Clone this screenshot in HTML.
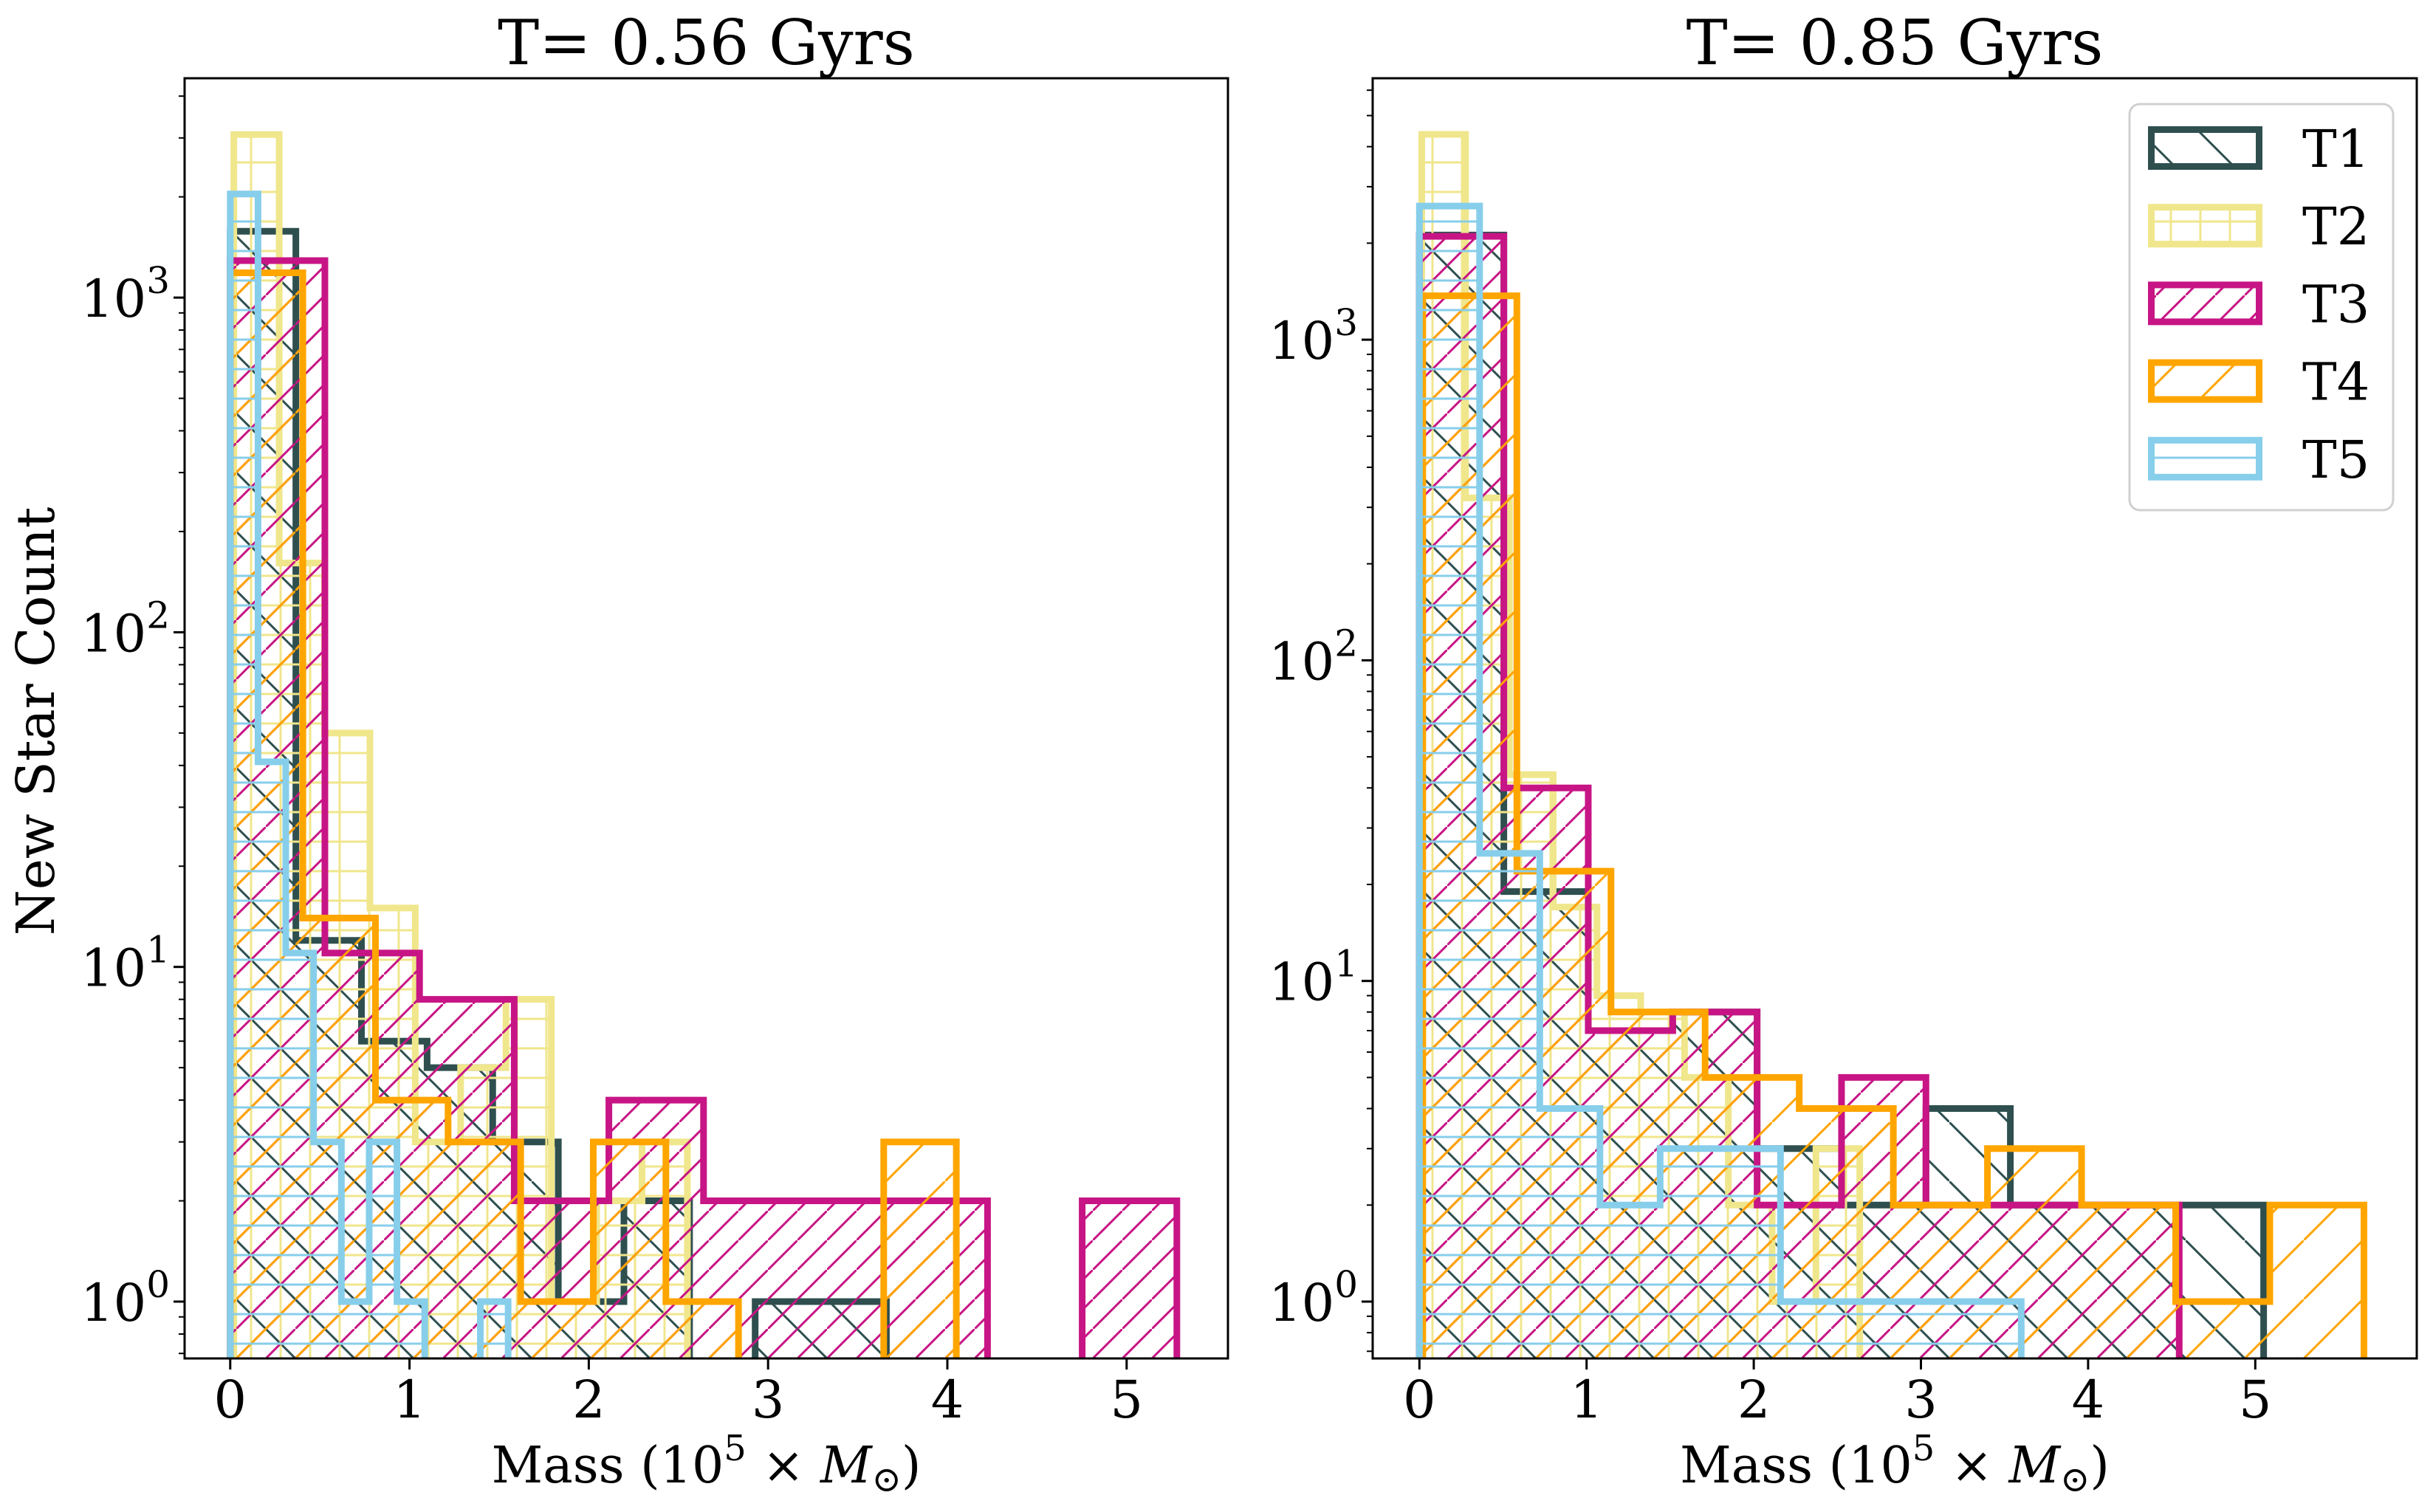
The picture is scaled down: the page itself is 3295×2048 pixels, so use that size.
<!DOCTYPE html>
<html><head><meta charset="utf-8"><title>New Star Count histograms</title>
<style>html,body{margin:0;padding:0;background:#fff}svg{display:block}text{font-family:"DejaVu Serif","Liberation Serif",serif;fill:#000}</style>
</head><body>
<svg id="chart" width="3295" height="2048" viewBox="0 0 3295 2048" xmlns="http://www.w3.org/2000/svg">
<defs id="defs"></defs>
</svg>
<script>
// ---- data ----
const seriesNames = ["T1","T2","T3","T4","T5"];
const seriesColors = ["#2F4F4F","#F0E68C","#C71585","#FFA500","#87CEEB"];
const seriesHatch = ["\\","+","//","/","-"];
const xTicks = [0,1,2,3,4,5];
const yTickExps = [0,1,2,3];
// left panel T=0.56
const leftBinStart = [0, 0.02, 0, 0, 0];
const leftBinWidth = [0.366, 0.253, 0.528, 0.405, 0.155];
const leftT1 = [1578,12,6,5,3,1,2,0,1,1];
const leftT2 = [3070,161,50,15,3,5,8,1,2,3];
const leftT3 = [1290,11,8,2,4,2,2,2,0,2];
const leftT4 = [1186,14,4,3,1,3,1,0,0,3];
const leftT5 = [2040,41,11,3,1,3,1,0,0,1];
// right panel T=0.85
const rightBinStart = [0, 0.014, 0, 0.02, 0];
const rightBinWidth = [0.505, 0.262, 0.505, 0.563, 0.36];
const rightT1 = [2120,19,7,8,3,2,4,2,2,2];
const rightT2 = [4370,321,44,17,9,8,5,2,1,3];
const rightT3 = [2100,40,7,8,2,5,2,2,2,0];
const rightT4 = [1371,22,8,5,4,2,3,2,1,2];
const rightT5 = [2610,25,4,2,3,3,1,1,1,1];

const NS="http://www.w3.org/2000/svg";
const svg=document.getElementById('chart');
const defs=document.getElementById('defs');
function mk(tag,attrs,parent){const e=document.createElementNS(NS,tag);for(const k in attrs)e.setAttribute(k,attrs[k]);(parent||svg).appendChild(e);return e;}

// hatch patterns
seriesNames.forEach((n,i)=>{
  const h=seriesHatch[i];const s=(h==="\\"||h==="/")?80:40;
  const p=mk('pattern',{id:'hatch-'+n,patternUnits:'userSpaceOnUse',width:s,height:s},defs);
  const st={stroke:seriesColors[i],'stroke-width':3,fill:'none'};
  if(h==="\\"){mk('line',Object.assign({x1:0,y1:0,x2:s,y2:s},st),p);}
  else if(h==="/"||h==="//"){mk('line',Object.assign({x1:0,y1:s,x2:s,y2:0},st),p);}
  else if(h==="+"){mk('line',Object.assign({x1:s/2,y1:0,x2:s/2,y2:s},st),p);mk('line',Object.assign({x1:0,y1:s/2,x2:s,y2:s/2},st),p);}
  else if(h==="-"){mk('line',Object.assign({x1:0,y1:s/2,x2:s,y2:s/2},st),p);}
});

function panel(cfg){
  const {L,R,T,B,x0px,xUnit,y0px,dec,title,starts,widths,data,name}=cfg;
  const g=mk('g',{});
  
  
  const xs=v=>x0px+v*xUnit;
  const ys=v=>y0px-Math.log10(v)*dec;
  const cid='clip-'+name;
  const cp=mk('clipPath',{id:cid},defs);mk('rect',{x:L,y:T,width:R-L,height:B-T},cp);
  const plot=mk('g',{'clip-path':'url(#'+cid+')'},g);
  
  
  data.forEach((counts,si)=>{
    const x0=starts[si],w=widths[si],bot=B+60;
    let d='M'+xs(x0)+','+bot;
    counts.forEach((c,i)=>{const y=c>0?ys(c):bot;d+=' L'+xs(x0+i*w)+','+y+' L'+xs(x0+(i+1)*w)+','+y;});
    d+=' L'+xs(x0+counts.length*w)+','+bot;
    const p=mk('path',{d:d,fill:'url(#hatch-'+seriesNames[si]+')',stroke:seriesColors[si],'stroke-width':9,'stroke-linejoin':'miter'},plot);
    
    
  });
  const fr=mk('rect',{x:L,y:T,width:R-L,height:B-T,fill:'none',stroke:'#000','stroke-width':3},g);
  
  
  xTicks.forEach(t=>{
    const x=xs(t);
    mk('line',{x1:x,y1:B,x2:x,y2:B+15,stroke:'#000','stroke-width':3},g);
    const tx=mk('text',{x:x,y:1920,'font-size':70,'text-anchor':'middle'},g);tx.textContent=t;
    
    
  });
  for(let e=-1;e<=4;e++){for(let k=1;k<10;k++){
    const v=k*Math.pow(10,e);const y=ys(v);if(y<T||y>B)continue;
    mk('line',{x1:L,y1:y,x2:L-(k===1?15:8),y2:y,stroke:'#000','stroke-width':k===1?3:2},g);
  }}
  yTickExps.forEach(e=>{
    const y=ys(Math.pow(10,e));
    const t=mk('text',{x:L-20,y:y+26,'font-size':70,'text-anchor':'end'},g);
    
    
    const a=mk('tspan',{},t);a.textContent='10';
    const b=mk('tspan',{'font-size':50,dy:-32},t);b.textContent=String(e);
  });
  const tt=mk('text',{x:(L+R)/2,y:87,'font-size':84,'text-anchor':'middle'},g);tt.textContent=title;
  
  
  const xl=mk('text',{x:(L+R)/2,y:2008,'font-size':68,'text-anchor':'middle'},g);
  
  
  const s1=mk('tspan',{},xl);s1.textContent='Mass (10';
  const s2=mk('tspan',{'font-size':48,dy:-30},xl);s2.textContent='5';
  const s3=mk('tspan',{dy:30},xl);s3.textContent=' × ';
  const s4=mk('tspan',{'font-style':'italic'},xl);s4.textContent='M';
  const s5=mk('tspan',{'font-size':48,dy:12},xl);s5.textContent='⊙';
  const s6=mk('tspan',{dy:-12},xl);s6.textContent=')';
  return g;
}

panel({L:250,R:1663,T:106,B:1840,x0px:311.8,xUnit:242.8,y0px:1763,dec:453.3,title:'T= 0.56 Gyrs',
  starts:leftBinStart,widths:leftBinWidth,data:[leftT1,leftT2,leftT3,leftT4,leftT5],name:'left-panel'});
panel({L:1859,R:3273,T:106,B:1840,x0px:1922.3,xUnit:226.4,y0px:1763,dec:434.3,title:'T= 0.85 Gyrs',
  starts:rightBinStart,widths:rightBinWidth,data:[rightT1,rightT2,rightT3,rightT4,rightT5],name:'right-panel'});

const yl=mk('text',{x:0,y:0,'font-size':71,'text-anchor':'middle',transform:'translate(73,977) rotate(-90)'});
yl.textContent='New Star Count';



const lg=mk('g',{});


mk('rect',{x:2884,y:141,width:357,height:550,rx:14,fill:'#fff','fill-opacity':0.8,stroke:'#d0d0d0','stroke-width':3},lg);
seriesNames.forEach((n,i)=>{
  const top=171+i*105.2;
  const e=mk('g',{},lg);
  
  
  mk('rect',{x:2913.5,y:top+4.5,width:146,height:50,fill:'url(#hatch-'+n+')',stroke:seriesColors[i],'stroke-width':9},e);
  const t=mk('text',{x:3118,y:top+55,'font-size':70},e);t.textContent=n;
});
</script>
</body></html>
